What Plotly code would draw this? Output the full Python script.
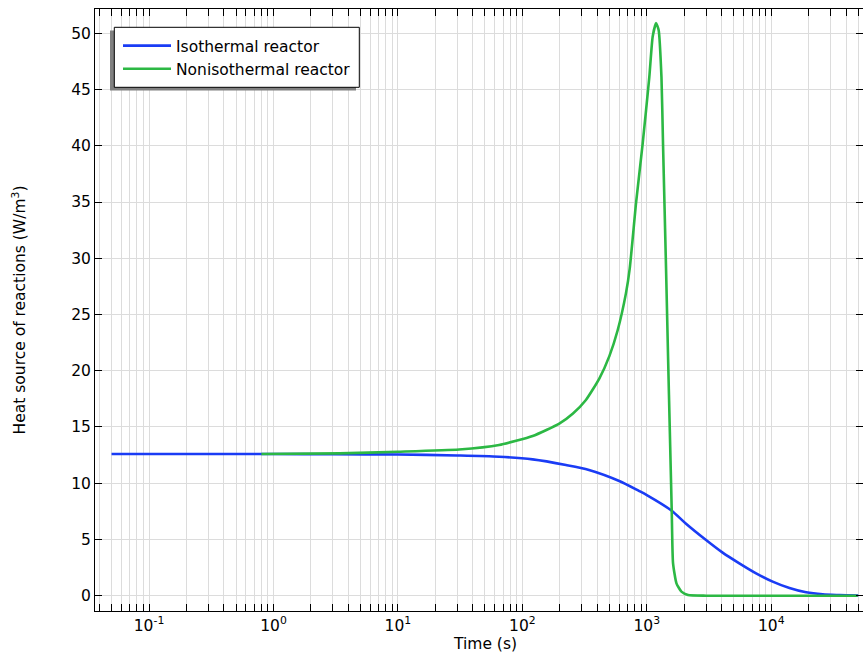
import plotly.graph_objects as go

# Time samples (s) and heat source of reactions (W/m^3)
t_iso = [0.05, 0.1, 0.3, 1, 3, 10, 30, 65, 121, 224, 343, 600, 871, 1000,
         1566, 2065, 2991, 4066, 5536, 7550, 10260, 14000, 19050, 25900, 35270, 50000]
q_iso = [12.6, 12.6, 12.6, 12.6, 12.58, 12.55, 12.47, 12.36, 12.12, 11.62, 11.18, 10.2, 9.3, 8.95,
         7.6, 6.4, 4.95, 3.83, 2.88, 1.99, 1.25, 0.68, 0.3, 0.12, 0.06, 0.02]

t_noniso = [0.8, 3.4, 10, 31, 65, 121, 198, 255, 324, 415, 500, 583, 680, 729, 819, 926,
            1047, 1114, 1186, 1244, 1311, 1349, 1390, 1427, 1483, 1530, 1585, 1624, 1730,
            1897, 2143, 3000, 10000, 49500]
q_noniso = [12.6, 12.65, 12.8, 13.0, 13.4, 14.2, 15.3, 16.2, 17.4, 19.3, 21.3, 23.6, 26.9, 29.1, 34.9, 40.2,
            46.1, 49.7, 50.9, 50.3, 46.1, 40.2, 34.3, 29.1, 21.0, 14.7, 7.6, 2.9, 1.1,
            0.36, 0.06, 0.0, 0.0, 0.0]

x_tickvals = [0.1, 1, 10, 100, 1000, 10000]
x_ticktext = ["10<sup>-1</sup>", "10<sup>0</sup>", "10<sup>1</sup>",
              "10<sup>2</sup>", "10<sup>3</sup>", "10<sup>4</sup>"]
y_ticks = list(range(0, 55, 5))

W, H = 863, 653
ML, MR, MT, MB = 95, 0, 9, 42
PW, PH = W - ML - MR, H - MT - MB


def px_x(px):
    return (px - ML) / PW


def px_y(py):
    return 1 - (py - MT) / PH


FONT = "DejaVu Sans"
FS = 15.5
GRID = "#dcdcdc"

fig = go.Figure()
fig.add_trace(go.Scatter(x=t_iso, y=q_iso, mode="lines", name="Isothermal reactor",
                         line=dict(color="#1a3cf5", width=2.6, shape="spline", smoothing=0.8)))
fig.add_trace(go.Scatter(x=t_noniso, y=q_noniso, mode="lines", name="Nonisothermal reactor",
                         line=dict(color="#2cb844", width=2.6, shape="spline", smoothing=0.5)))

# legend frame with drop shadow
fig.add_shape(type="rect", xref="paper", yref="paper",
              x0=px_x(110), x1=px_x(356), y0=px_y(90.5), y1=px_y(30.5),
              fillcolor="#808080", line=dict(width=0), layer="above")
fig.add_shape(type="rect", xref="paper", yref="paper",
              x0=px_x(114.3), x1=px_x(359.3), y0=px_y(87.3), y1=px_y(27.3),
              fillcolor="white", line=dict(color="black", width=1), layer="above")

# x-axis title
fig.add_annotation(text="Time (s)", xref="paper", yref="paper",
                   x=px_x(485), y=px_y(644), xanchor="center", yanchor="middle",
                   showarrow=False, font=dict(family=FONT, size=FS, color="black"))

fig.update_layout(
    width=W, height=H,
    margin=dict(l=ML, r=MR, t=MT, b=MB),
    paper_bgcolor="white", plot_bgcolor="white",
    font=dict(family=FONT, size=FS, color="black"),
    showlegend=True,
    legend=dict(x=px_x(118), y=px_y(29), xanchor="left", yanchor="top",
                bgcolor="rgba(0,0,0,0)", borderwidth=0, itemwidth=48,
                font=dict(family=FONT, size=FS, color="black")),
)

fig.update_xaxes(
    type="log", range=[-1.434, 4.737],
    tickvals=x_tickvals, ticktext=x_ticktext,
    ticks="inside", ticklen=7, tickcolor="black", tickwidth=1,
    showline=True, linecolor="black", linewidth=1, mirror="ticks",
    showgrid=True, gridcolor=GRID, gridwidth=1, zeroline=False,
    minor=dict(ticks="inside", ticklen=7, tickcolor="black", showgrid=True,
               gridcolor=GRID, gridwidth=1, dtick="D1"),
    tickfont=dict(family=FONT, size=FS),
)

fig.update_yaxes(
    range=[-1.36, 52.16], tickvals=y_ticks,
    ticks="inside", ticklen=7, tickcolor="black", tickwidth=1,
    showline=True, linecolor="black", linewidth=1, mirror="ticks",
    showgrid=True, gridcolor=GRID, gridwidth=1, zeroline=False,
    title=dict(text="Heat source of reactions (W/m<sup>3</sup>)", standoff=41,
               font=dict(family=FONT, size=FS)),
    tickfont=dict(family=FONT, size=FS),
)

fig.write_html("out.html")
